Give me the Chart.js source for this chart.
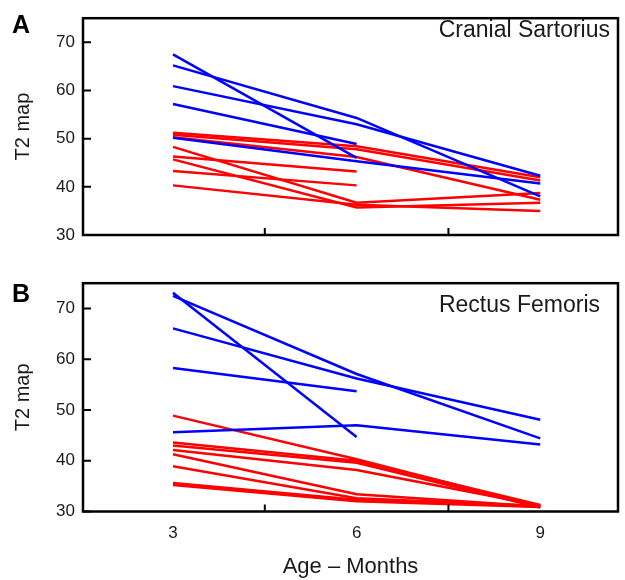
<!DOCTYPE html>
<html>
<head>
<meta charset="utf-8">
<script src="https://cdn.jsdelivr.net/npm/chart.js@4.4.0/dist/chart.umd.min.js"></script>
<style>
  body { margin: 0; background: #fff; }
  canvas { position: absolute; left: 0; }
  #chartA { top: 0; }
  #chartB { top: 265px; }
</style>
</head>
<body>
<canvas id="chartA" width="625" height="265"></canvas>
<canvas id="chartB" width="625" height="315"></canvas>
<script>
// idades (meses) e ticks
const ages = [3, 6, 9];
const yTicks = [30, 40, 50, 60, 70];
const xTicks = [3, 6, 9];
const xMarks = [4.5, 7.5];

// A - Cranial Sartorius (uma linha por animal: 3, 6, 9 meses)
const sartoriusBlue = [
    [67.5, 46.0, null],
    [65.2, 54.3, 38.0],
    [60.9, 53.0, 42.3],
    [57.2, 48.9, null],
    [50.2, 45.3, 40.7]
];
const sartoriusRed = [
    [51.2, 48.4, 42.0],
    [50.8, 47.8, 41.3],
    [50.3, 46.2, 37.3],
    [48.3, 36.7, 38.7],
    [46.3, 43.2, null],
    [45.7, 35.7, 36.7],
    [43.3, 40.3, null],
    [40.3, 36.3, 35.0]
];

// B - Rectus Femoris
const femorisBlue = [
    [73.1, 44.7, null],
    [72.5, 57.1, 44.4],
    [66.1, 56.2, 48.1],
    [58.3, 53.7, null],
    [45.6, 47.0, 43.2]
];
const femorisRed = [
    [48.9, 40.3, 31.0],
    [43.6, 40.0, 31.3],
    [43.0, 39.6, 30.8],
    [42.1, 38.2, 31.2],
    [41.3, 33.4, 31.0],
    [38.9, 32.6, 31.1],
    [35.6, 32.3, 31.0],
    [35.2, 32.0, 30.9]
];

const FONT = '"Liberation Sans", Arial, sans-serif';
const TEXT = '#1a1a1a';

const framePlugin = {
    id: 'frame',
    afterDraw(chart, args, opts) {
        const { ctx, chartArea: a, scales: { x, y } } = chart;
        ctx.save();
        ctx.strokeStyle = '#000';
        ctx.lineWidth = 2.5;
        ctx.strokeRect(a.left, a.top, a.right - a.left, a.bottom - a.top);
        ctx.lineWidth = 2;
        ctx.beginPath();
        yTicks.forEach(v => {
            const py = y.getPixelForValue(v);
            ctx.moveTo(a.left, py);
            ctx.lineTo(a.left + 8, py);
        });
        xMarks.forEach(v => {
            const px = x.getPixelForValue(v);
            ctx.moveTo(px, a.bottom);
            ctx.lineTo(px, a.bottom - 7);
        });
        ctx.stroke();

        ctx.fillStyle = '#000';
        ctx.textBaseline = 'alphabetic';
        ctx.textAlign = 'left';
        ctx.font = 'bold 25px ' + FONT;
        ctx.fillText(opts.letter, 12, opts.letterY);
        ctx.fillStyle = TEXT;
        ctx.textAlign = 'right';
        ctx.font = '23px ' + FONT;
        ctx.fillText(opts.name, opts.nameX, opts.nameY);
        ctx.restore();
    }
};

function toDatasets(rows, color) {
    return rows.map(r => ({
        data: ages.map((a, i) => ({ x: a, y: r[i] })),
        borderColor: color,
        borderWidth: 2.5,
        pointRadius: 0,
        fill: false,
        tension: 0,
        spanGaps: false
    }));
}

function makeChart(id, blue, red, showX, xHeight, padTop, frameOpts) {
    new Chart(document.getElementById(id), {
        type: 'line',
        data: {
            datasets: toDatasets(blue, '#0000ff').concat(toDatasets(red, '#ff0000'))
        },
        plugins: [framePlugin],
        options: {
            responsive: false,
            animation: false,
            layout: { padding: { top: padTop, right: 7, left: 0, bottom: 0 } },
            plugins: {
                legend: { display: false },
                tooltip: { enabled: false },
                frame: frameOpts
            },
            scales: {
                x: {
                    type: 'linear',
                    min: 1.53,
                    max: 10.27,
                    afterBuildTicks: s => { s.ticks = xTicks.map(v => ({ value: v })); },
                    afterFit: s => { s.height = xHeight; },
                    grid: { display: false, drawTicks: false },
                    border: { display: false },
                    ticks: { display: showX, color: TEXT, font: { family: FONT, size: 17 }, padding: 12 },
                    title: { display: showX, text: 'Age – Months', color: TEXT, font: { family: FONT, size: 22 }, padding: 0 }
                },
                y: {
                    type: 'linear',
                    min: 30,
                    max: 75,
                    afterBuildTicks: s => { s.ticks = yTicks.map(v => ({ value: v })); },
                    afterFit: s => { s.width = 83; },
                    grid: { display: false, drawTicks: false },
                    border: { display: false },
                    ticks: { color: TEXT, font: { family: FONT, size: 17 }, padding: 8 },
                    title: { display: true, text: 'T2 map', color: TEXT, font: { family: FONT, size: 20 }, padding: { top: 11, bottom: 0 } }
                }
            }
        }
    });
}

makeChart('chartA', sartoriusBlue, sartoriusRed, false, 30, 10,
    { letter: 'A', letterY: 33, name: 'Cranial Sartorius', nameX: 610, nameY: 37 });
makeChart('chartB', femorisBlue, femorisRed, true, 68.5, 15,
    { letter: 'B', letterY: 37, name: 'Rectus Femoris', nameX: 600, nameY: 47 });
</script>
</body>
</html>
